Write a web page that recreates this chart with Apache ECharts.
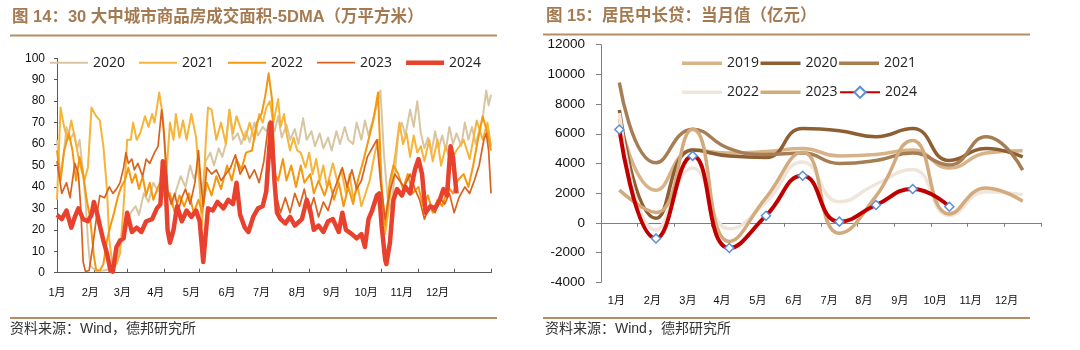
<!DOCTYPE html>
<html><head><meta charset="utf-8">
<script src="https://cdn.jsdelivr.net/npm/echarts@6/dist/echarts.min.js"></script>
<style>html,body{margin:0;padding:0;background:#fff}#c{width:1080px;height:350px}</style>
</head><body><div id="c"></div>
<script>
// ---------- data ----------
const MONTHS = ['1月','2月','3月','4月','5月','6月','7月','8月','9月','10月','11月','12月'];

// Left chart: 30 cities 5DMA, [day of year, value]
const YEARS_L = ['2020','2021','2022','2023','2024'];
const AREA_2020 = [[0,62],[3,45],[6,57],[8,68],[11,62],[14,65],[17,58],[19,62],[22,46],[24,34],[26,15],[28,3],[33,1],[40,1],[45,2],[48,4],[51,8],[54,14],[58,20],[62,28],[66,31],[69,27],[73,37],[77,33],[81,42],[85,38],[88,48],[91,52],[94,36],[97,31],[100,38],[104,45],[108,40],[112,50],[115,44],[119,49],[122,38],[125,52],[129,56],[132,50],[136,58],[139,54],[142,60],[145,76],[148,62],[152,65],[155,60],[159,66],[162,61],[166,70],[169,64],[173,68],[176,66],[179,71],[183,66],[186,73],[189,63],[193,69],[196,62],[200,67],[203,60],[207,72],[210,62],[214,66],[217,59],[221,65],[224,58],[228,63],[231,57],[235,66],[238,60],[242,68],[245,62],[249,60],[252,70],[256,62],[259,71],[262,64],[266,72],[269,78],[272,85],[275,55],[278,35],[281,30],[284,45],[287,65],[290,70],[293,64],[297,76],[300,68],[303,80],[306,65],[309,58],[312,63],[315,56],[318,66],[321,58],[324,64],[327,57],[330,68],[333,60],[336,65],[340,59],[343,70],[346,62],[349,68],[352,60],[355,66],[358,72],[361,85],[363,78],[365,83]];
const AREA_2021 = [[0,34],[3,77],[6,68],[9,62],[12,71],[15,63],[19,51],[23,43],[26,49],[29,77],[33,73],[36,71],[39,59],[42,39],[44,15],[47,3],[50,4],[53,9],[56,31],[59,62],[62,62],[64,70],[67,62],[70,65],[74,73],[77,68],[80,74],[82,70],[86,84],[89,73],[92,46],[95,70],[98,62],[100,74],[103,63],[106,71],[109,62],[113,74],[117,63],[120,40],[122,22],[125,60],[127,77],[130,76],[134,62],[138,70],[142,60],[145,76],[148,65],[151,73],[154,68],[158,62],[162,70],[166,62],[170,74],[173,70],[176,77],[179,80],[182,70],[186,81],[188,68],[191,74],[193,65],[196,57],[199,63],[202,57],[205,56],[209,49],[212,56],[215,46],[218,53],[221,43],[224,50],[227,40],[232,51],[236,42],[239,48],[243,37],[246,46],[249,35],[253,40],[256,31],[263,43],[267,55],[270,62],[273,40],[276,18],[279,30],[282,46],[285,57],[288,70],[291,60],[294,65],[297,54],[300,64],[303,56],[306,59],[309,52],[313,62],[316,52],[320,62],[323,50],[327,59],[331,52],[336,57],[342,62],[347,53],[353,71],[358,62],[362,70],[365,59]];
const AREA_2022 = [[0,57],[3,43],[6,57],[10,65],[13,57],[16,43],[19,54],[22,46],[25,34],[28,25],[31,8],[33,1],[36,1],[39,4],[42,15],[45,22],[48,28],[51,35],[54,40],[57,43],[60,49],[63,42],[66,46],[69,39],[72,45],[75,36],[78,42],[81,34],[85,40],[88,43],[91,34],[95,37],[99,28],[103,36],[107,31],[111,37],[115,28],[119,34],[122,28],[126,42],[130,36],[134,45],[138,39],[143,50],[147,43],[151,53],[155,48],[159,56],[164,57],[168,70],[172,74],[175,82],[178,93],[181,80],[183,46],[186,43],[190,53],[193,43],[197,50],[201,40],[205,50],[208,42],[213,46],[216,37],[220,43],[225,36],[229,43],[233,34],[237,42],[241,31],[245,40],[249,32],[253,43],[258,53],[262,62],[266,71],[270,84],[273,40],[276,22],[280,43],[283,50],[287,46],[291,39],[295,46],[299,37],[304,40],[308,31],[312,36],[316,28],[320,34],[324,31],[329,40],[333,37],[337,43],[342,46],[346,40],[350,50],[354,62],[358,73],[362,65],[365,57]];
const AREA_2023 = [[0,52],[4,37],[8,42],[11,35],[15,51],[18,46],[20,30],[22,5],[24,0.5],[27,1],[30,12],[33,25],[36,36],[40,35],[44,40],[47,37],[50,39],[53,42],[56,49],[58,56],[60,51],[63,53],[65,48],[68,51],[72,45],[75,53],[78,51],[82,56],[85,59],[88,76],[90,65],[93,39],[96,32],[99,37],[102,29],[105,35],[108,39],[112,32],[116,42],[119,57],[121,42],[123,31],[126,49],[130,46],[134,48],[138,43],[142,46],[146,49],[150,55],[154,46],[158,50],[162,44],[166,48],[170,42],[174,52],[178,70],[181,56],[184,37],[188,28],[192,35],[196,28],[200,37],[204,31],[208,39],[212,28],[216,35],[220,26],[224,33],[228,29],[232,37],[236,43],[240,49],[244,40],[248,48],[252,39],[256,43],[261,54],[269,62],[272,43],[276,25],[280,38],[284,46],[288,43],[292,40],[297,46],[301,39],[305,34],[309,25],[313,31],[318,28],[322,35],[326,32],[330,37],[334,28],[338,35],[343,40],[347,37],[351,43],[355,50],[359,62],[361,65],[363,57],[365,37]];
const AREA_2024 = [[0,27],[4,25],[8,29],[12,21],[15,26],[18,30],[22,25],[26,24],[29,27],[31,33],[34,27],[36,22],[39,15],[42,9],[45,1],[47,0.5],[50,12],[53,15],[56,16],[59,28],[63,19],[67,21],[71,19],[75,24],[80,25],[84,30],[87,32],[89,52],[91,45],[93,20],[95,14],[98,20],[101,31],[105,24],[109,29],[113,26],[117,29],[120,24],[123,5],[127,30],[131,29],[135,33],[140,30],[144,34],[148,32],[151,42],[154,27],[158,21],[161,19],[165,26],[169,30],[173,31],[176,38],[179,62],[180,70],[183,42],[185,28],[188,25],[192,23],[196,26],[200,22],[206,25],[210,34],[213,29],[216,20],[220,22],[224,19],[228,24],[232,25],[237,19],[240,28],[243,20],[248,18],[252,16],[256,18],[259,12],[262,25],[265,29],[269,36],[271,37],[273,22],[276,6],[277,4],[280,14],[283,34],[286,39],[290,36],[293,40],[297,37],[301,48],[304,53],[307,46],[310,28],[314,31],[318,30],[322,34],[325,39],[328,36],[331,59],[333,54],[336,37]];
const AREA_SERIES = [AREA_2020, AREA_2021, AREA_2022, AREA_2023, AREA_2024];

// Right chart: household medium & long-term loans, monthly (亿元)
const YEARS_R = ['2019','2020','2021','2022','2023','2024'];
const LOAN_2019 = [7000, 2200, 4900, 4700, 4800, 5000, 4500, 4600, 4900, 3700, 4700, 4850];
const LOAN_2020 = [7600, 300, 4900, 4500, 4400, 6350, 6200, 5800, 6350, 4200, 5000, 4440];
const LOAN_2021 = [9450, 4040, 6300, 5000, 4600, 4700, 4000, 4200, 4700, 3900, 5800, 3550];
const LOAN_2022 = [7400, -500, 3700, -400, 1400, 4100, 1420, 2600, 3600, 500, 2100, 1900];
const LOAN_2023 = [2200, 700, 6300, -1250, 1700, 4750, -700, 1800, 5550, 600, 2350, 1450];
const LOAN_2024 = [6290, -1050, 4510, -1700, 480, 3170, 80, 1200, 2280, 1080];
const LOAN_SERIES = [LOAN_2019, LOAN_2020, LOAN_2021, LOAN_2022, LOAN_2023, LOAN_2024];

// ---------- styling / layout ----------
const FONT = '"Liberation Sans", "Noto Sans CJK SC", sans-serif';
const LEG_FONT = '"Open Sans", "Liberation Sans", sans-serif';
const BROWN_T = '#A57A50';
const BROWN_L = '#B68C64';
const COLORS_L = ['#D8C6A2', '#F6B43A', '#F5970F', '#D9621D', '#E8412E'];
const WIDTHS_L = [2, 2, 2, 1.7, 4.5];
const COLORS_R = ['#D6B388', '#8D5F33', '#A77E54', '#EFE5DA', '#D2AA7C', '#C00000'];
const WIDTHS_R = [3.5, 3.5, 3.5, 3.5, 3.5, 4];

const MONTH_START_DAYS = [0,31,59,90,120,151,181,212,243,273,304,334,365];
const LABEL_AT_L = [0,28,55,83,113,143,172,202,231,260,290,320];
const LABEL_AT_R = [0.42,1.40,2.37,3.30,4.28,5.26,6.22,7.17,8.15,9.11,10.08,11.06];
function labelFor(v, pos){ let b=0; for(let i=1;i<pos.length;i++){ if(Math.abs(pos[i]-v)<Math.abs(pos[b]-v)) b=i; } return MONTHS[b]; }
function barIcon(w, h){ return 'path://M0,0H' + w + 'V' + h + 'H0Z'; }

const chart = echarts.init(document.getElementById('c'), null, {renderer:'canvas'});

const seriesL = YEARS_L.map((y,i)=>({
  name: y, type:'line', xAxisIndex:0, yAxisIndex:0, data: AREA_SERIES[i],
  symbol:'none', z: 2+i,
  lineStyle:{width: WIDTHS_L[i], color: COLORS_L[i], join:'round'},
  itemStyle:{color: COLORS_L[i]}
}));
const seriesR = YEARS_R.map((y,i)=>{
  const is24 = (y === '2024');
  return {
    name: 'R'+y, type:'line', xAxisIndex:1, yAxisIndex:1, smooth:0.5,
    data: LOAN_SERIES[i].map((v,k)=>[k+0.5, v]),
    symbol: is24 ? 'diamond' : 'none', symbolSize: 9, showSymbol: is24, z: 10+i,
    lineStyle:{width: WIDTHS_R[i], color: COLORS_R[i]},
    itemStyle: is24 ? {color:'#ffffff', borderColor:'#5B8FDA', borderWidth:1.5} : {color: COLORS_R[i]}
  };
});

const legendText = {fontSize:14, fontFamily: LEG_FONT, color:'#222'};
const legendL = YEARS_L.map((y,i)=>({name:y, icon: barIcon(38, WIDTHS_L[i])}));
const legendR1 = ['2019','2020','2021'].map(y=>({name:'R'+y, icon: barIcon(40, 3.5)}));
const legendR2 = [{name:'R2022', icon: barIcon(40, 3.5)}, {name:'R2023', icon: barIcon(40, 3.5)}, {name:'R2024'}];

const option = {
  animation:false,
  backgroundColor:'#ffffff',
  title:[
    {text:'图 14：30 大中城市商品房成交面积-5DMA（万平方米）', left:12, top:9.5, padding:0,
     textStyle:{fontSize:16.5, fontWeight:'bold', color:BROWN_T, fontFamily:FONT}},
    {text:'图 15：居民中长贷：当月值（亿元）', left:546, top:8.5, padding:0,
     textStyle:{fontSize:16.5, fontWeight:'bold', color:BROWN_T, fontFamily:FONT}},
    {text:'资料来源：Wind，德邦研究所', left:10, top:322, padding:0,
     textStyle:{fontSize:14, fontWeight:'normal', color:'#333', fontFamily:FONT}},
    {text:'资料来源：Wind，德邦研究所', left:545, top:322, padding:0,
     textStyle:{fontSize:14, fontWeight:'normal', color:'#333', fontFamily:FONT}}
  ],
  graphic:[
    {type:'line', shape:{x1:10,y1:35.5,x2:497,y2:35.5}, style:{stroke:BROWN_L, lineWidth:2}},
    {type:'line', shape:{x1:543,y1:34.5,x2:1030,y2:34.5}, style:{stroke:BROWN_L, lineWidth:2}},
    {type:'line', shape:{x1:10,y1:318,x2:497,y2:318}, style:{stroke:BROWN_L, lineWidth:2}},
    {type:'line', shape:{x1:543,y1:318,x2:1030,y2:318}, style:{stroke:BROWN_L, lineWidth:2}}
  ],
  legend:[
    {data:legendL, left:50, top:55.7, padding:0, itemWidth:38, itemHeight:14, itemGap:14,
     selectedMode:false, textStyle:legendText},
    {data:legendR1, left:682, top:56.3, padding:0, itemWidth:40, itemHeight:14, itemGap:1.5,
     selectedMode:false, textStyle:legendText, formatter:n=>n.slice(1)},
    {data:legendR2, left:682, top:85.3, padding:0, itemWidth:40, itemHeight:14, itemGap:1.5,
     selectedMode:false, textStyle:legendText, formatter:n=>n.slice(1)}
  ],
  grid:[
    {left:57, top:58.3, width:434, height:214.4},
    {left:601, top:44.7, width:440, height:237.5}
  ],
  xAxis:[
    {type:'value', gridIndex:0, min:0, max:365, splitLine:{show:false},
     axisLine:{lineStyle:{color:'#595959', width:1}},
     axisTick:{show:true, inside:true, length:4, customValues:MONTH_START_DAYS, lineStyle:{color:'#595959'}},
     axisLabel:{customValues:LABEL_AT_L, formatter:v=>labelFor(v, LABEL_AT_L), margin:15,
       fontSize:11, color:'#111', fontFamily:FONT}},
    {type:'value', gridIndex:1, min:0, max:12, interval:1, position:'bottom', splitLine:{show:false},
     axisLine:{onZero:true, lineStyle:{color:'#7F7F7F', width:1}},
     axisTick:{show:true, length:4, lineStyle:{color:'#7F7F7F'}},
     axisLabel:{show:false}},
    {type:'value', gridIndex:1, min:0, max:12, position:'bottom', splitLine:{show:false},
     axisLine:{show:false, onZero:false}, axisTick:{show:false},
     axisLabel:{customValues:LABEL_AT_R, formatter:v=>labelFor(v, LABEL_AT_R), margin:13,
       fontSize:11, color:'#111', fontFamily:FONT}}
  ],
  yAxis:[
    {type:'value', gridIndex:0, min:0, max:100, interval:10, splitLine:{show:false},
     axisLine:{show:true, lineStyle:{color:'#595959'}},
     axisTick:{show:true, length:3, lineStyle:{color:'#595959'}},
     axisLabel:{margin:12, fontSize:12, color:'#111', fontFamily:FONT,
       showMaxLabel:true, showMinLabel:true, formatter:v=>String(v)}},
    {type:'value', gridIndex:1, min:-4000, max:12000, interval:2000, splitLine:{show:false},
     axisLine:{show:true, onZero:false, lineStyle:{color:'#7F7F7F'}},
     axisTick:{show:true, length:5, lineStyle:{color:'#7F7F7F'}},
     axisLabel:{margin:16, fontSize:13.5, color:'#111', fontFamily:FONT, showMaxLabel:true, formatter:v=>String(v)}}
  ],
  series: seriesL.concat(seriesR)
};
chart.setOption(option);
</script></body></html>
